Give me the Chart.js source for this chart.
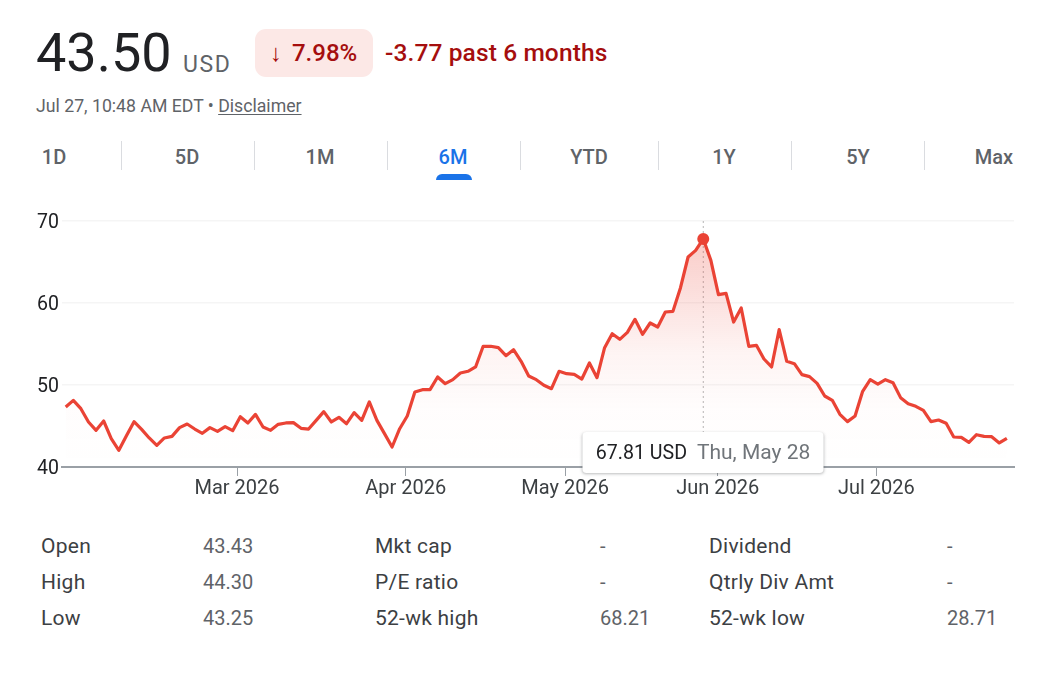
<!DOCTYPE html>
<html>
<head>
<meta charset="utf-8">
<title>43.50 USD</title>
<script src="https://cdn.jsdelivr.net/npm/chart.js@4/dist/chart.umd.min.js"></script>
<style>
  html, body { margin: 0; padding: 0; background: #fff; }
  body { width: 1039px; height: 690px; position: relative; overflow: hidden; font-family: Roboto, sans-serif; color: #202124; }
  .abs { position: absolute; white-space: nowrap; line-height: 1; }
  #price { left: 36px; top: 26px; font-size: 54px; }
  #currency { left: 183px; top: 53px; font-size: 23px; letter-spacing: 1.6px; color: #5f6368; }
  #pill { left: 255px; top: 29px; width: 118px; height: 48px; border-radius: 11px; background: #fce8e6; }
  #pct { left: 270px; top: 41px; font-size: 24px; font-weight: 500; word-spacing: 4px; color: #a50e0e; }
  #change { left: 385px; top: 41px; font-size: 24.5px; font-weight: 500; letter-spacing: 0.12px; color: #a50e0e; }
  #stamp { left: 36px; top: 98px; font-size: 17.7px; color: #5f6368; }
  #stamp u { text-underline-offset: 2px; }
  .tab { top: 147px; font-size: 20px; font-weight: 500; color: #5f6368; transform: translateX(-50%); }
  .tab.on { color: #1a73e8; }
  .sep { top: 141px; width: 1px; height: 29px; background: #dadce0; }
  #indicator { left: 436px; top: 174px; width: 36px; height: 6px; background: #1a73e8; border-radius: 6px 6px 0 0; }
  #chartBox { position: absolute; left: 0; top: 200px; width: 1039px; height: 310px; }
  #tip { position: absolute; top: 432px; height: 41px; width: 241px; box-sizing: border-box; background: #fff; border-radius: 4px; padding-left: 13px;
         box-shadow: 0 1px 3px rgba(60,64,67,.35); font-size: 19.6px; line-height: 41px; white-space: nowrap; transform: translateX(-50%); }
  #tip span { color: #70757a; margin-left: 5px; font-size: 21px; }
  .stat { font-size: 21px; letter-spacing: 0.25px; color: #3c4043; }
  .val { font-size: 20px; color: #5f6368; }
</style>
</head>
<body>
<div class="abs" id="price">43.50</div>
<div class="abs" id="currency">USD</div>
<div class="abs" id="pill"></div>
<div class="abs" id="pct">↓ 7.98%</div>
<div class="abs" id="change">-3.77 past 6 months</div>
<div class="abs" id="stamp">Jul 27, 10:48 AM EDT • <u>Disclaimer</u></div>
<div class="abs" id="indicator"></div>
<div id="chartBox"><canvas id="stockChart"></canvas></div>
<div id="tip"></div>

<script>
// close prices, Jan 27 to Jul 27 2026
const prices = [
  47.32, 48.13, 47.11, 45.49, 44.47, 45.61, 43.46, 42.03, 43.82, 45.53,
  44.59, 43.54, 42.64, 43.54, 43.74, 44.80, 45.24, 44.63, 44.11, 44.80,
  44.35, 44.92, 44.43, 46.14, 45.37, 46.42, 44.88, 44.47, 45.20, 45.37,
  45.41, 44.72, 44.63, 45.69, 46.75, 45.49, 46.06, 45.28, 46.63, 45.69,
  47.93, 45.69, 44.07, 42.44, 44.67, 46.22, 49.15, 49.43, 49.43, 50.98,
  50.16, 50.65, 51.46, 51.67, 52.20, 54.72, 54.72, 54.55, 53.58, 54.31,
  52.89, 51.10, 50.65, 49.96, 49.55, 51.67, 51.38, 51.30, 50.73, 52.68,
  50.89, 54.55, 56.26, 55.57, 56.42, 58.01, 56.18, 57.56, 57.07, 58.90,
  58.98, 61.87, 65.61, 66.42, 67.81, 65.20, 61.02, 61.18, 57.68, 59.39,
  54.72, 54.84, 53.17, 52.20, 56.75, 52.89, 52.60, 51.26, 51.02, 50.20,
  48.66, 48.13, 46.42, 45.53, 46.22, 49.23, 50.65, 50.12, 50.65, 50.28,
  48.46, 47.72, 47.40, 46.91, 45.53, 45.73, 45.33, 43.66, 43.62, 43.01,
  43.94, 43.74, 43.70, 42.93, 43.50
];
const monthLabels = ['Mar 2026', 'Apr 2026', 'May 2026', 'Jun 2026', 'Jul 2026'];
const monthTicks = [22.57, 44.8, 65.8, 85.9, 106.8]; // first of month, in trading days
const yTicks = [40, 50, 60, 70];
const hoverIndex = 84;
const hoverPrice = '67.81 USD';
const hoverDate = 'Thu, May 28';

const tabs = ['1D', '5D', '1M', '6M', 'YTD', '1Y', '5Y', 'Max'];
const tabCenters = [54, 187, 320, 453, 589, 724, 858, 994];
const tabSeps = [121, 254, 387, 520, 658, 791, 924];
const activeTab = '6M';

const statCols = [
  { x: 41, vx: 203, labels: ['Open', 'High', 'Low'], values: ['43.43', '44.30', '43.25'] },
  { x: 375, vx: 600, labels: ['Mkt cap', 'P/E ratio', '52-wk high'], values: ['-', '-', '68.21'] },
  { x: 709, vx: 947, labels: ['Dividend', 'Qtrly Div Amt', '52-wk low'], values: ['-', '-', '28.71'] }
];
const statRows = [536, 572, 608];

function addAbs(cls, left, top, text) {
  const el = document.createElement('div');
  el.className = 'abs ' + cls;
  el.style.left = left + 'px';
  if (top !== null) el.style.top = top + 'px';
  el.textContent = text;
  document.body.appendChild(el);
}

tabs.forEach((t, i) => addAbs('tab' + (t === activeTab ? ' on' : ''), tabCenters[i], null, t));
tabSeps.forEach(x => addAbs('sep', x, null, ''));
statCols.forEach(col => {
  col.labels.forEach((l, i) => {
    addAbs('stat', col.x, statRows[i], l);
    addAbs('val', col.vx, statRows[i], col.values[i]);
  });
});

const fillGradient = (ctx) => {
  const chart = ctx.chart;
  if (!chart.chartArea) return 'transparent';
  const g = chart.ctx.createLinearGradient(0, chart.scales.y.getPixelForValue(67.8), 0, chart.chartArea.bottom);
  g.addColorStop(0, 'rgba(234,67,53,0.27)');
  g.addColorStop(0.5, 'rgba(234,67,53,0.06)');
  g.addColorStop(0.75, 'rgba(234,67,53,0.012)');
  g.addColorStop(1, 'rgba(234,67,53,0)');
  return g;
};

const hoverPlugin = {
  id: 'hoverGuide',
  beforeDatasetsDraw(chart) {
    const c = chart.ctx;
    const x = chart.scales.x.getPixelForValue(hoverIndex);
    c.save();
    c.strokeStyle = '#b5b5b5';
    c.lineWidth = 1;
    c.setLineDash([2, 3]);
    c.beginPath();
    c.moveTo(x, chart.chartArea.top);
    c.lineTo(x, chart.chartArea.bottom);
    c.stroke();
    c.restore();
  },
  afterRender(chart) {
    const tip = document.getElementById('tip');
    tip.style.left = chart.scales.x.getPixelForValue(hoverIndex) + 'px';
  }
};

document.getElementById('tip').innerHTML = hoverPrice + ' <span>' + hoverDate + '</span>';

new Chart(document.getElementById('stockChart'), {
  type: 'line',
  data: {
    datasets: [{
      data: prices.map((p, i) => ({ x: i, y: p })),
      borderColor: '#ea4335',
      borderWidth: 3.2,
      borderJoinStyle: 'round',
      tension: 0,
      fill: 'start',
      backgroundColor: fillGradient,
      pointRadius: (ctx) => ctx.dataIndex === hoverIndex ? 6 : 0,
      pointBackgroundColor: '#ea4335',
      pointBorderWidth: 0
    }]
  },
  plugins: [hoverPlugin],
  options: {
    responsive: true,
    maintainAspectRatio: false,
    animation: false,
    layout: { padding: { top: 21, right: 25, bottom: 0, left: 0 } },
    plugins: { legend: { display: false }, tooltip: { enabled: false } },
    scales: {
      x: {
        type: 'linear',
        min: -0.49,
        max: 124.94,
        afterFit: (s) => { s.height = 43; },
        afterBuildTicks: (s) => { s.ticks = monthTicks.map(v => ({ value: v })); },
        border: { color: '#9aa0a6', width: 2 },
        grid: { drawOnChartArea: false, color: '#9aa0a6', tickLength: 9, tickWidth: 1 },
        ticks: {
          autoSkip: false,
          maxRotation: 0,
          padding: 1,
          color: '#3c4043',
          font: { family: 'Roboto', size: 20 },
          callback: (v) => monthLabels[monthTicks.indexOf(v)]
        }
      },
      y: {
        min: 40,
        max: 70,
        afterFit: (s) => { s.width = 62; },
        afterBuildTicks: (s) => { s.ticks = yTicks.map(v => ({ value: v })); },
        border: { display: false },
        grid: { color: '#f5f5f5', lineWidth: 1.5, tickLength: 0 },
        ticks: { padding: 3, labelOffset: 2, color: '#202124', font: { family: 'Roboto', size: 19.5 } }
      }
    }
  }
});
</script>
</body>
</html>
